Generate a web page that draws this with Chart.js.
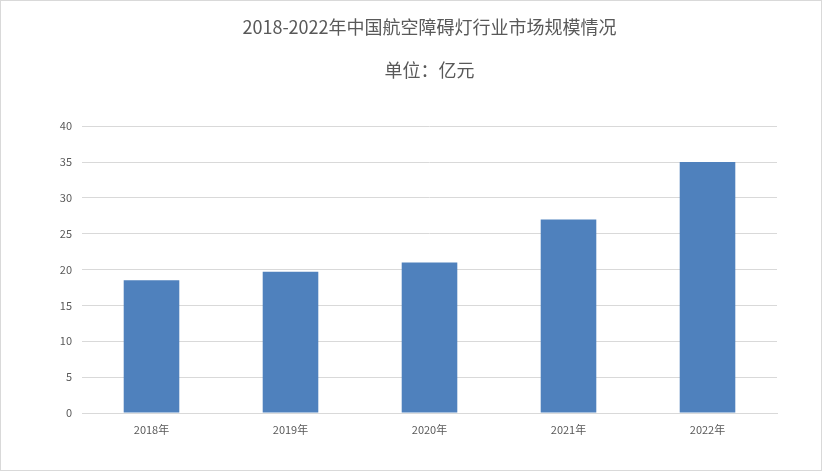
<!DOCTYPE html>
<html>
<head>
<meta charset="utf-8">
<script src="https://cdn.jsdelivr.net/npm/chart.js@4/dist/chart.umd.min.js"></script>
<style>
  html, body { margin: 0; padding: 0; background: #fff; }
  #wrap { width: 820px; height: 469px; border: 1px solid #d9d9d9; }
</style>
</head>
<body>
<div id="wrap"><canvas id="chart" width="820" height="469"></canvas></div>
<script>
// Chart data
const years = ['2018年', '2019年', '2020年', '2021年', '2022年'];
const marketSize = [18.5, 19.7, 21.0, 27.0, 35.0];
const yMax = 40;
const yStep = 5;

const fontFamily = "'Noto Sans CJK SC', 'Noto Sans', sans-serif";
Chart.defaults.font.family = fontFamily;
Chart.defaults.color = '#595959';

const ctx = document.getElementById('chart').getContext('2d');
new Chart(ctx, {
  type: 'bar',
  data: {
    labels: years,
    datasets: [{
      label: '市场规模',
      data: marketSize,
      backgroundColor: '#4f81bd',
      categoryPercentage: 1.0,
      barPercentage: 0.4
    }]
  },
  options: {
    responsive: false,
    animation: false,
    layout: { padding: { left: 0, right: 44, top: 0, bottom: 0 } },
    plugins: {
      legend: { display: false },
      tooltip: { enabled: false },
      title: {
        display: true,
        fullSize: false,
        text: '2018-2022年中国航空障碍灯行业市场规模情况',
        font: { size: 18, weight: 'normal' },
        color: '#595959',
        padding: { top: 15, bottom: 22 }
      },
      subtitle: {
        display: true,
        fullSize: false,
        text: '单位：亿元',
        font: { size: 18, weight: 'normal' },
        color: '#595959',
        padding: { top: 0, bottom: 45 }
      }
    },
    scales: {
      x: {
        grid: { display: false, drawTicks: false },
        border: { color: '#d9d9d9' },
        ticks: { font: { size: 11 }, padding: 10, color: '#595959' },
        afterFit: scale => { scale.height = 57; }
      },
      y: {
        min: 0,
        max: yMax,
        ticks: { stepSize: yStep, font: { size: 11 }, padding: 10, color: '#595959' },
        grid: { color: '#d9d9d9', drawTicks: false },
        border: { display: false },
        afterFit: scale => { scale.width = 81; }
      }
    }
  }
});
</script>
</body>
</html>
